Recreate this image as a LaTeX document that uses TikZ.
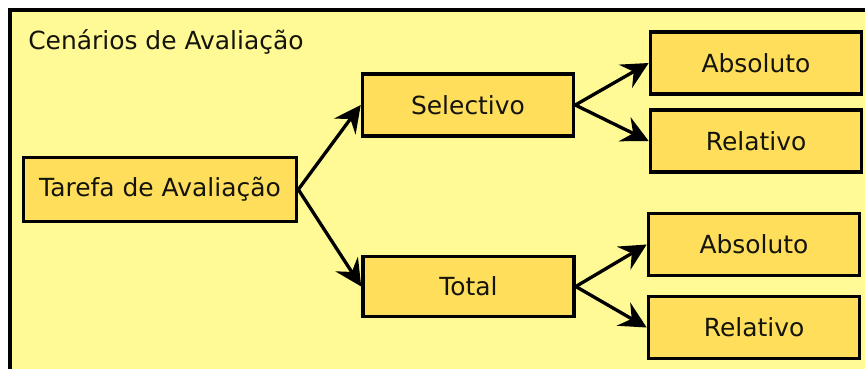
\documentclass[tikz,border=0pt]{standalone}
\usepackage{fontspec}
\setmainfont{DejaVu Sans}
\usetikzlibrary{arrows.meta}
\definecolor{bgyel}{RGB}{255,250,150}
\definecolor{boxyel}{RGB}{255,222,92}
\definecolor{txt}{RGB}{20,20,10}
\tikzset{
  box/.style={draw=black, fill=boxyel, line width=2.7pt, rectangle, inner sep=0pt,
     minimum width=158.25pt, minimum height=46.5pt, font=\fontsize{18.7pt}{20pt}\selectfont, text=txt},
  conn/.style={line width=2.5pt, -{Stealth[length=20pt,width=20pt,inset=7pt]}}
}
\begin{document}
\begin{tikzpicture}[x=0.75pt,y=-0.75pt]
\useasboundingbox (0,0) rectangle (865,369);
\fill[white] (0,0) rectangle (865,369);
\fill[bgyel] (9,10) rectangle (865,369);
\draw[line width=3pt] (9.5,369) -- (9.5,10) -- (865,10);
\node[anchor=base west, inner sep=0pt, font=\fontsize{18.7pt}{20pt}\selectfont, text=txt] (title) at (28,49) {Cenários de Avaliação};
\node[box, minimum width=204.75pt, minimum height=48pt] (tarefa) at (160,189.5) {Tarefa de Avaliação};
\node[box] (sel) at (468,105) {Selectivo};
\node[box, minimum height=45pt] (tot) at (468.5,286.5) {Total};
\node[box] (abs1) at (756,63) {Absoluto};
\node[box] (rel1) at (756,141) {Relativo};
\node[box] (abs2) at (754,244.5) {Absoluto};
\node[box] (rel2) at (754,327.5) {Relativo};
\draw[conn] (tarefa.east) -- (sel.west);
\draw[conn] (tarefa.east) -- (tot.west);
\draw[conn] (sel.east) -- (abs1.west);
\draw[conn] (sel.east) -- (rel1.west);
\draw[conn] (tot.east) -- (abs2.west);
\draw[conn] (tot.east) -- (rel2.west);
\end{tikzpicture}
\end{document}
